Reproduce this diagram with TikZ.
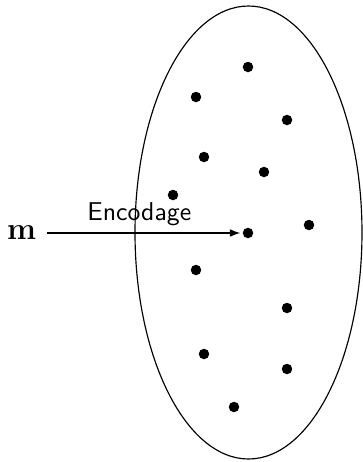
\documentclass[tikz,border=0pt]{standalone}
\usetikzlibrary{arrows.meta}
\begin{document}
\begin{tikzpicture}[x=0.388pt,y=-0.388pt,
  pt/.style={circle,fill=black,inner sep=0pt,minimum size=10.5*0.388pt},
  lbl/.style={font=\sffamily}]
\useasboundingbox (0,0) rectangle (363,462);
\draw[line width=0.45pt] (248.5,232.5) ellipse [x radius=113.5, y radius=226.5];
\node[pt] (d1) at (248,67) {};
\node[pt] (d2) at (196,97) {};
\node[pt] (d3) at (287,120) {};
\node[pt] (d4) at (204,157) {};
\node[pt] (d5) at (264,172) {};
\node[pt] (d6) at (173,195) {};
\node[pt] (d7) at (309,225) {};
\node[pt] (d8) at (248,233) {};
\node[pt] (d9) at (196,270) {};
\node[pt] (d10) at (287,308) {};
\node[pt] (d11) at (204,354) {};
\node[pt] (d12) at (287,369) {};
\node[pt] (d13) at (234,407) {};
\node[inner sep=0pt,font=\fontsize{11.5}{13}\selectfont] (m) at (21.5,233) {$\mathbf{m}$};
\draw[-{Latex[length=4pt,width=3pt]},line width=0.45pt,shorten <=10*0.388pt,shorten >=2*0.388pt] (m) -- node[midway,above,lbl,inner sep=2.5pt] {Encodage} (d8);
\end{tikzpicture}
\end{document}
